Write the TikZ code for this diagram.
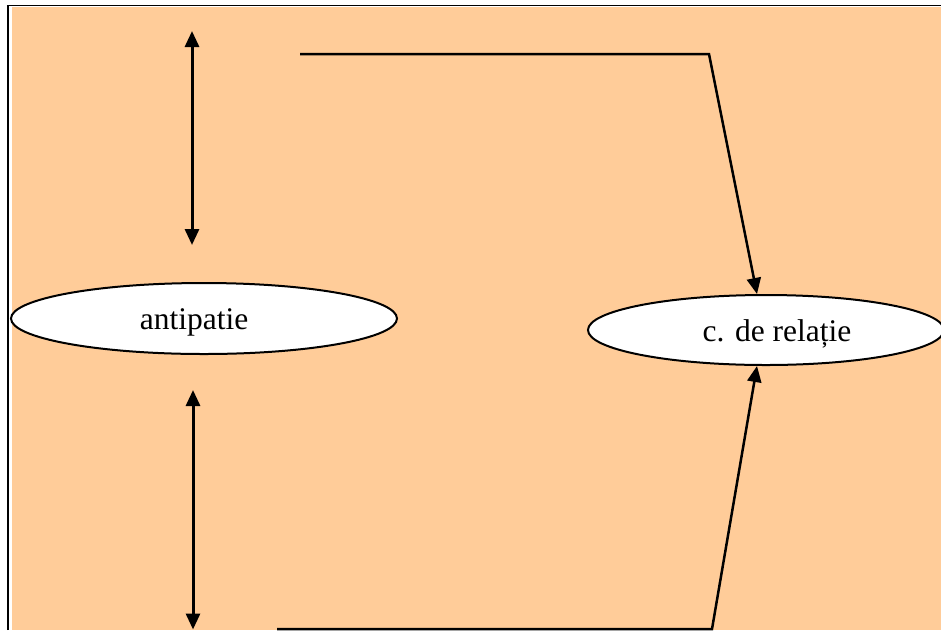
\documentclass[tikz,border=0pt]{standalone}
\usepackage{fontspec}
\setmainfont{Liberation Serif}
\usetikzlibrary{shapes.geometric,arrows.meta}
\definecolor{tanbg}{RGB}{255,204,153}
\tikzset{
  oval/.style={ellipse,draw,line width=2pt,fill=white,inner sep=0pt},
  lbl/.style={anchor=base,inner sep=0pt,font=\fontsize{31.5}{37}\selectfont},
  link/.style={line width=2.5pt,-{Triangle[length=16pt,width=14pt]}},
  dbl/.style={line width=3pt,{Triangle[length=16pt,width=14pt]}-{Triangle[length=16pt,width=14pt]}},
}
\begin{document}
\begin{tikzpicture}[x=1pt,y=-1pt]
\useasboundingbox (0,0) rectangle (941,630);
\fill[white] (0,0) rectangle (941,630);
\fill[tanbg] (12,7) rectangle (941,630);
\draw[line width=2.5pt] (8,630) -- (8,5.5);
\draw[line width=1.5pt] (6.75,5.5) -- (941,5.5);
% ovals
\node[oval,minimum width=386pt,minimum height=71pt] (anti) at (204,318.5) {};
\node[lbl] (antiT) at (194,329.5) {antipatie};
\node[oval,minimum width=356pt,minimum height=70pt] (rel) at (766,330) {};
\node[lbl] (relT) at (777,341) {c. de relație};
% double arrows
\coordinate (u1) at (192,31);
\coordinate (u2) at (192,245);
\coordinate (l1) at (193,390);
\coordinate (l2) at (193,629.5);
\draw[dbl] (u1) -- (u2);
\draw[dbl] (l1) -- (l2);
% connectors
\coordinate (t0) at (300,54);
\coordinate (t1) at (709,54);
\coordinate (b0) at (277,629);
\coordinate (b1) at (712,629);
\draw[link] (t0) -- (t1) -- (rel.north -| 757,0);
\draw[link] (b0) -- (b1) -- (rel.south -| 757,0);
\end{tikzpicture}
\end{document}
